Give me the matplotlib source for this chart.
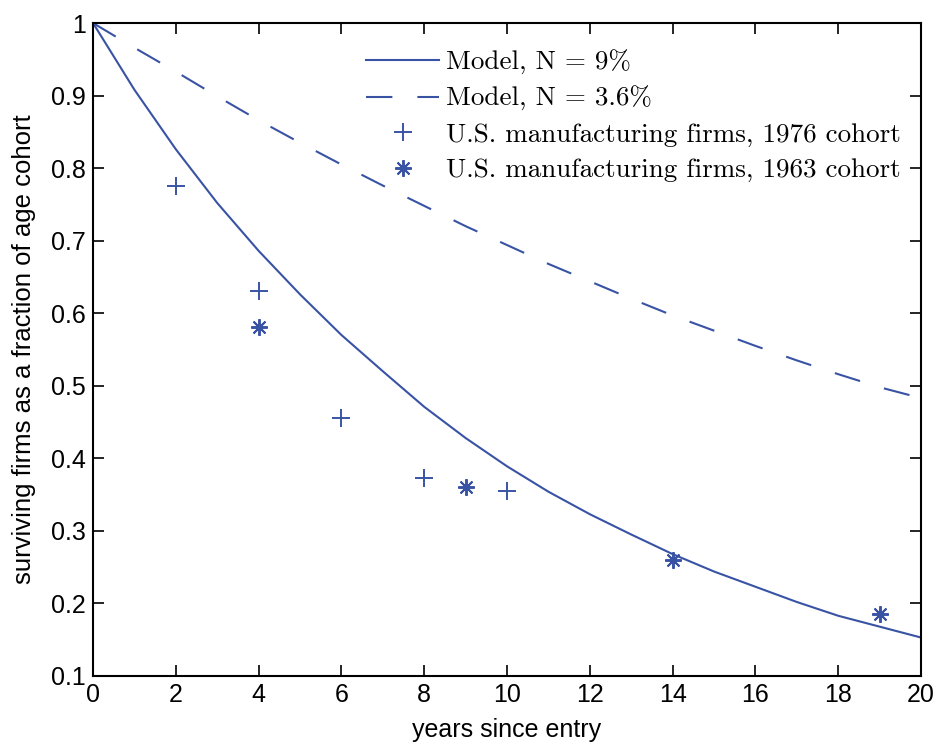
import matplotlib
matplotlib.use('Agg')
import matplotlib.pyplot as plt
import numpy as np

# model curves, read per year from the picture
years = list(range(0, 21))
model_9 = [1.0, 0.908, 0.826, 0.752, 0.686, 0.626, 0.570, 0.520, 0.471, 0.428,
           0.389, 0.354, 0.323, 0.295, 0.268, 0.244, 0.223, 0.202, 0.183, 0.168, 0.153]
model_36 = [1.0, 0.966, 0.933, 0.899, 0.866, 0.835, 0.805, 0.776, 0.748, 0.720,
            0.694, 0.668, 0.644, 0.620, 0.597, 0.576, 0.555, 0.535, 0.516, 0.498, 0.483]

# observed cohorts
yrs_1976 = [2, 4, 6, 8, 10]
surv_1976 = [0.775, 0.631, 0.455, 0.373, 0.355]
yrs_1963 = [4, 9, 14, 19]
surv_1963 = [0.581, 0.361, 0.260, 0.186]

blue = '#3953a4'
plt.rcParams['lines.scale_dashes'] = False

fig = plt.figure(figsize=(9.37, 7.44), dpi=100)
ax = fig.add_axes([0.0993, 0.0914, 0.8837, 0.8776])

ax.plot(years, model_9, color=blue, lw=1.5, label='Model, N = 9%')
ax.plot(years, model_36, color=blue, lw=1.5, dashes=(19, 18), label='Model, N = 3.6%')
ax.plot(yrs_1976, surv_1976, ls='none', marker='+', ms=13, mew=1.4, color=blue,
        label='U.S. manufacturing firms, 1976 cohort')
ax.plot(yrs_1963, surv_1963, ls='none', marker=(8, 2, 0), ms=12, mew=1.4, color=blue,
        label='U.S. manufacturing firms, 1963 cohort')

ax.set_xlim(0, 20)
ax.set_ylim(0.1, 1)
ax.set_xticks(np.arange(0, 21, 2))
ax.set_yticks(np.arange(0.1, 1.01, 0.1))
ax.set_yticklabels(['0.1', '0.2', '0.3', '0.4', '0.5', '0.6', '0.7', '0.8', '0.9', '1'])

sans = ['Liberation Sans', 'DejaVu Sans']
for lab in ax.get_xticklabels() + ax.get_yticklabels():
    lab.set_fontfamily(sans)
    lab.set_fontsize(18)
ax.tick_params(direction='in', length=8, width=1.2, top=True, right=True, pad=5)
for s in ax.spines.values():
    s.set_linewidth(1.5)

ax.set_xlabel('years since entry', fontfamily=sans, fontsize=18, labelpad=8)
ax.set_ylabel('surviving firms as a fraction of age cohort', fontfamily=sans,
              fontsize=18.5, labelpad=11)

leg = ax.legend(loc='upper right', bbox_to_anchor=(0.995, 0.984), frameon=False,
                prop={'family': ['cmr10', 'DejaVu Serif'], 'size': 19.5},
                handlelength=2.7, handletextpad=0.25, labelspacing=0.42, borderaxespad=0.2)

fig.savefig('out.png', dpi=100)
